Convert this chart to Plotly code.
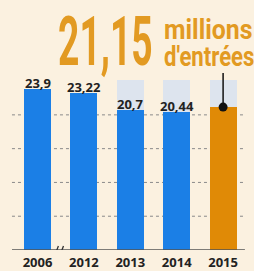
import plotly.graph_objects as go

years = ["2006", "2012", "2013", "2014", "2015"]
entries = [23.9, 23.22, 20.7, 20.44, 21.15]
value_labels = ["23,9", "23,22", "20,7", "20,44", ""]
ghost_max = [None, None, 25.2, 25.2, 25.2]
grid_levels = [5, 10, 15, 20]

BG = "#fbf1e0"
BLUE = "#1b7fe6"
ORANGE = "#e08a06"
TITLE_ORANGE = "#e29a22"
GHOST = "#dde4ee"

xpos = list(range(len(years)))
px_per_unit = 6.757
y_top = 250 / px_per_unit
x_left = -37.5 / 46.4
x_right = (254 - 37.5) / 46.4

fig = go.Figure()

fig.add_trace(go.Bar(x=xpos, y=ghost_max, marker_color=GHOST, width=0.58,
                     marker_line_width=0, hoverinfo="skip", showlegend=False))
fig.add_trace(go.Bar(
    x=xpos, y=entries, width=0.58,
    marker_color=[BLUE, BLUE, BLUE, BLUE, ORANGE], marker_line_width=0,
    showlegend=False))

# pointer line from headline to 2015 bar
fig.add_trace(go.Scatter(x=[xpos[-1], xpos[-1]], y=[entries[-1], 26.2], mode="lines",
                         line=dict(color="#111111", width=1.5), showlegend=False,
                         hoverinfo="skip"))
fig.add_trace(go.Scatter(x=[xpos[-1]], y=[entries[-1]], mode="markers",
                         marker=dict(color="#111111", size=9), showlegend=False,
                         hoverinfo="skip"))

shapes = []
for g in grid_levels:
    shapes.append(dict(type="line", xref="x", yref="y", x0=-0.55, x1=4.47, y0=g, y1=g,
                       line=dict(color="#8a8a8a", width=1, dash="dot"), layer="below"))
shapes.append(dict(type="line", xref="x", yref="y", x0=-0.55, x1=4.47, y0=0, y1=0,
                   line=dict(color="#555555", width=1.5), layer="above"))
# axis break marks between 2006 and 2012
for off in (0.42, 0.53):
    shapes.append(dict(type="line", xref="x", yref="y", x0=off - 0.03, x1=off + 0.03,
                       y0=-0.5, y1=0.6, line=dict(color="#333333", width=1.3)))

annotations = []
for xv, yv, lab in zip(xpos, entries, value_labels):
    if lab:
        annotations.append(dict(text=lab, x=xv, y=yv, xref="x", yref="y",
                                xanchor="center", yanchor="bottom", showarrow=False,
                                yshift=-5,
                                font=dict(family="Noto Sans", size=13, color="#222222",
                                          weight="bold")))

annotations += [
    dict(text="21,15", x=56 / 254, y=1.0 - 60 / 250, xref="paper", yref="paper",
         xanchor="left", yanchor="bottom", showarrow=False, yshift=-24,
         font=dict(family="Roboto", size=69, color=TITLE_ORANGE, weight="bold")),
    dict(text="millions", x=162 / 254, y=1.0 - 35 / 250, xref="paper", yref="paper",
         xanchor="left", yanchor="bottom", showarrow=False, yshift=-13,
         font=dict(family="Roboto", size=27, color=TITLE_ORANGE, weight="bold")),
    dict(text="d'entrées", x=162 / 254, y=1.0 - 60 / 250, xref="paper", yref="paper",
         xanchor="left", yanchor="bottom", showarrow=False, yshift=-15,
         font=dict(family="Roboto", size=27, color=TITLE_ORANGE, weight="bold")),
]

fig.update_layout(
    width=254, height=271,
    margin=dict(l=0, r=0, t=0, b=21),
    paper_bgcolor=BG, plot_bgcolor=BG,
    barmode="overlay", bargap=0,
    shapes=shapes, annotations=annotations,
    xaxis=dict(range=[x_left, x_right], tickvals=xpos,
               ticktext=years[:-1] + ["<b>" + years[-1] + "</b>"],
               tickfont=dict(family="Noto Sans", size=13, color="#222222", weight="bold"),
               ticklabelstandoff=3,
               showgrid=False, zeroline=False, showline=False, ticks="", ticklen=0,
               fixedrange=True, automargin=False),
    yaxis=dict(range=[0, y_top], showgrid=False, zeroline=False, showticklabels=False,
               fixedrange=True, automargin=False),
)

post = """
document.body.style.margin = '0';
document.body.style.background = '%s';
var style = document.createElement('style');
style.textContent = '.annotation-text { transform-box: fill-box; transform-origin: left center; }';
document.head.appendChild(style);
document.querySelectorAll('.annotation-text').forEach(function(t) {
  var txt = t.textContent;
  var s = null;
  if (txt === '21,15') s = 0.54;
  else if (txt === 'millions') s = 0.92;
  else if (txt === "d'entrées") s = 0.82;
  if (s !== null) t.style.transform = 'scaleX(' + s + ')';
});
""" % BG

fig.write_html("out.html", post_script=post, config={"displayModeBar": False})
